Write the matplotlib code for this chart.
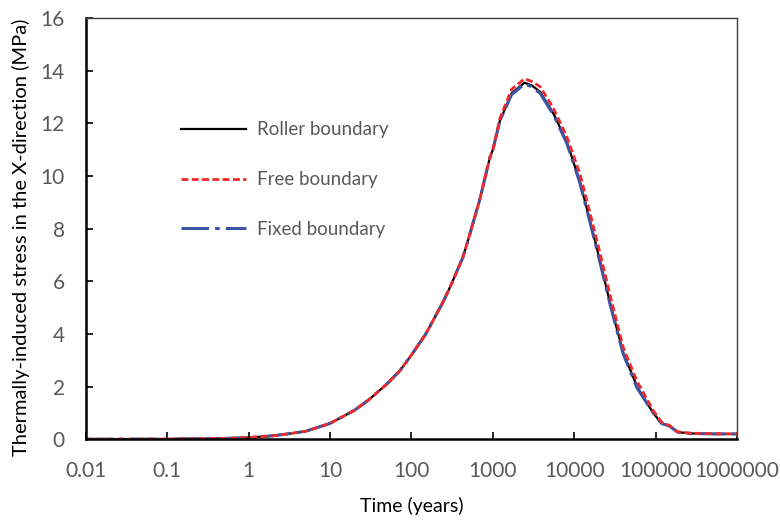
import matplotlib
matplotlib.use("Agg")
import matplotlib.pyplot as plt
from matplotlib.ticker import FixedLocator, FixedFormatter, NullLocator

plt.rcParams['font.family'] = ['Lato', 'DejaVu Sans']

# time (years) and stress (MPa) for the three boundary conditions
time_yr = [0.01, 0.1, 0.5, 1, 2, 3, 5, 10, 20, 30, 50, 72, 100, 150, 243, 300,
           427, 500, 690, 918, 1000, 1220, 1700, 2450, 3000, 3800, 5500, 8100,
           11700, 15600, 20600, 27400, 39800, 59000, 93000, 118000, 148000,
           186000, 265000, 500000, 1000000]
roller = [0.0, 0.005, 0.03, 0.06, 0.13, 0.2, 0.3, 0.6, 1.1, 1.5, 2.1, 2.6, 3.2,
          4.0, 5.2, 5.8, 6.9, 7.6, 9.1, 10.7, 11.0, 12.1, 13.15, 13.55, 13.45,
          13.2, 12.4, 11.3, 9.8, 8.3, 6.8, 5.2, 3.3, 2.0, 1.0, 0.6, 0.5, 0.27,
          0.22, 0.2, 0.2]
free = [0.0, 0.005, 0.03, 0.06, 0.13, 0.2, 0.3, 0.6, 1.1, 1.5, 2.1, 2.6, 3.2,
        4.0, 5.2, 5.8, 6.9, 7.6, 9.1, 10.7, 11.0, 12.2, 13.3, 13.7, 13.6,
        13.4, 12.6, 11.5, 10.1, 8.6, 7.1, 5.5, 3.5, 2.2, 1.1, 0.65, 0.52, 0.28,
        0.23, 0.21, 0.2]
fixed = [0.0, 0.005, 0.03, 0.06, 0.13, 0.2, 0.3, 0.6, 1.1, 1.5, 2.1, 2.6, 3.2,
         4.0, 5.2, 5.8, 6.9, 7.6, 9.1, 10.7, 11.0, 12.1, 13.1, 13.5, 13.4,
         13.15, 12.35, 11.25, 9.75, 8.25, 6.75, 5.15, 3.25, 1.95, 1.0, 0.6, 0.5,
         0.27, 0.22, 0.2, 0.2]

xticks = [0.01, 0.1, 1, 10, 100, 1000, 10000, 100000, 1000000]
xtick_labels = ['0.01', '0.1', '1', '10', '100', '1000', '10000', '100000', '1000000']
yticks = [0, 2, 4, 6, 8, 10, 12, 14, 16]

gray = '#595959'

fig = plt.figure(figsize=(7.8, 5.21), dpi=100)
ax = fig.add_axes([0.110, 0.157, 0.835, 0.808])

ax.plot(time_yr, roller, color='black', lw=1.6, label='Roller boundary')
ax.plot(time_yr, fixed, color='#3a55a4', lw=2.2, dashes=(9, 2, 1.5, 2),
        label='Fixed boundary')
ax.plot(time_yr, free, color='#f02a2a', lw=2.0, dashes=(2.5, 1.2),
        label='Free boundary')

ax.set_xscale('log')
ax.set_xlim(0.01, 1000000)
ax.set_ylim(0, 16)
ax.xaxis.set_major_locator(FixedLocator(xticks))
ax.xaxis.set_major_formatter(FixedFormatter(xtick_labels))
ax.xaxis.set_minor_locator(NullLocator())
ax.set_yticks(yticks)

ax.tick_params(axis='both', direction='in', length=5, width=1.2,
               color='black', labelcolor=gray, labelsize=15)
ax.tick_params(axis='x', pad=16)
ax.tick_params(axis='y', pad=15)

for side in ('left', 'bottom'):
    ax.spines[side].set_linewidth(1.8)
    ax.spines[side].set_color('black')
for side in ('top', 'right'):
    ax.spines[side].set_linewidth(1.0)
    ax.spines[side].set_color('#404040')

ax.set_xlabel('Time (years)', fontsize=14, color='black')
ax.set_ylabel('Thermally-induced stress in the X-direction (MPa)', fontsize=14.5,
              color='black')
ax.xaxis.set_label_coords(0.5, -0.136)
ax.yaxis.set_label_coords(-0.086, 0.48)

handles, labels = ax.get_legend_handles_labels()
order = [0, 2, 1]
leg = ax.legend([handles[i] for i in order], [labels[i] for i in order],
                loc='upper left', bbox_to_anchor=(0.12, 0.795), frameon=False,
                fontsize=13.5, labelspacing=1.75, handlelength=3.5,
                handletextpad=0.55)
for txt in leg.get_texts():
    txt.set_color(gray)

fig.savefig('out.png', dpi=100)
